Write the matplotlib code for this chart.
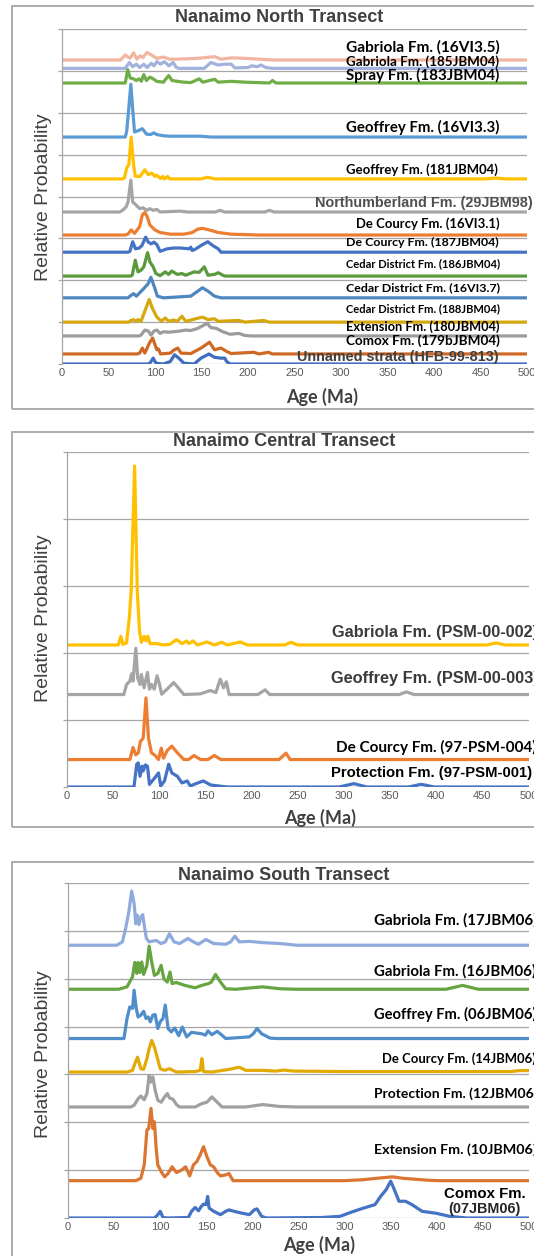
import matplotlib
matplotlib.use("Agg")
import matplotlib.pyplot as plt
from matplotlib.patches import Rectangle

# ---------------- data: (age Ma, relative height above the curve's baseline) ----------------
# Nanaimo North Transect
n_16VI35 = [(0, 0), (63, 0), (68, 0.12), (73, 0.04), (77, 0.17), (80.5, 0.02), (84, 0.10), (87, 0.06),
            (91.5, 0.18), (96, 0.12), (102, 0.04), (109, 0.07), (116, 0.02), (124, 0.02), (146, 0.04),
            (164, 0.08), (171, 0.02), (182, 0.05), (197, 0.04), (212, 0.02), (226, 0), (500, 0)]
n_185JBM04 = [(0, 0), (68, 0), (72.5, 0.14), (76, 0.04), (80, 0.10), (83.5, 0.02), (88, 0.10), (91.5, 0.02),
              (96, 0.12), (99, 0.06), (102, 0.16), (106, 0.10), (110, 0.16), (115, 0.06), (119.5, 0.14),
              (123, 0.02), (126, 0), (153, 0), (160, 0.14), (168, 0.08), (175, 0.10), (182, 0.10),
              (186, 0.01), (200, 0.02), (204, 0.06), (210, 0.04), (214, 0.08), (219, 0.02), (226, 0), (500, 0)]
n_183JBM04 = [(0, 0), (68, 0), (70.7, 0.32), (73.3, 0.12), (76.9, 0.10), (79.9, 0.06), (82.8, 0.10),
              (85.3, 0.04), (87.9, 0.20), (90.8, 0.06), (94.5, 0.14), (98.2, 0.10), (101.8, 0.04),
              (109, 0.02), (114.7, 0.18), (118.3, 0.06), (124, 0.04), (131, 0.02), (138.5, 0.01),
              (147.6, 0.10), (151.3, 0.02), (164, 0.09), (168, 0.02), (182, 0.04), (197, 0.02), (223, 0),
              (226.4, 0.06), (230, 0), (500, 0)]
n_16VI33 = [(0, 0), (68, 0), (69.6, 0.14), (71.8, 0.69), (74, 1.26), (76.2, 0.61), (78, 0.12), (81.7, 0.15),
            (86.4, 0.20), (90.8, 0.07), (95.2, 0.06), (98.9, 0.10), (101.8, 0.06), (109, 0.03), (116.5, 0.02),
            (131, 0.02), (149, 0.02), (160, 0), (500, 0)]
n_181JBM04 = [(0, 0), (65, 0), (67, 0.02), (69.6, 0.26), (71.8, 0.34), (74.4, 1.0), (76.9, 0.34), (79, 0.06),
              (84, 0.06), (89, 0.22), (92.7, 0.10), (96.3, 0.14), (100, 0.06), (101.8, 0.09), (106, 0.01),
              (108.4, 0.06), (110, 0), (113.6, 0.06), (115.8, 0), (149, 0), (156.8, 0.04), (164, 0),
              (455, 0), (466, 0.02), (477, 0), (500, 0)]
n_29JBM98 = [(0, 0), (62, 0), (65, 0.04), (69, 0.12), (71, 0.24), (74, 0.76), (76, 0.24), (80, 0.16),
             (83.5, 0.08), (87, 0.10), (91, 0.04), (94.5, 0.08), (98, 0.04), (102, 0.06), (105.5, 0),
             (127, 0.02), (135, 0), (165, 0), (170, 0.04), (175, 0), (218, 0), (223, 0.04), (228, 0), (500, 0)]
n_16VI31 = [(0, 0), (68, 0), (70.7, 0.02), (74.4, 0.12), (78, 0.04), (83.5, 0.20), (86.4, 0.48), (89, 0.54),
            (91.6, 0.44), (94.5, 0.24), (100, 0.12), (105.5, 0.06), (116.5, 0.02), (131, 0.02), (140, 0.06),
            (146, 0.14), (151, 0.16), (158.6, 0.12), (168, 0.06), (182, 0.02), (197, 0.01), (212, 0), (500, 0)]
n_187JBM04 = [(0, 0), (71, 0), (73, 0.02), (76, 0.25), (79, 0.08), (83, 0.10), (86, 0.16), (90, 0.36),
              (92.7, 0.24), (96, 0.20), (99, 0.24), (102, 0.18), (105.5, 0.02), (113, 0.08), (120, 0.10),
              (127.5, 0.10), (136.6, 0.08), (138.5, 0.12), (140, 0.04), (144, 0.08), (149.5, 0.16),
              (156.8, 0.25), (162, 0.16), (168, 0.08), (171, 0), (500, 0)]
n_186JBM04 = [(0, 0), (74, 0), (75.5, 0.02), (78.8, 0.38), (81.7, 0.10), (85, 0.14), (88, 0.22), (92, 0.56),
              (94.5, 0.34), (98, 0.22), (101, 0.06), (105.5, 0.01), (111, 0.10), (114.6, 0.04), (118, 0.12),
              (124, 0.04), (129, 0.06), (133, 0.02), (142, 0.10), (147.6, 0.09), (153, 0.22), (157, 0.02),
              (164, 0.04), (168, 0.08), (173, 0.02), (175, 0), (500, 0)]
n_16VI37 = [(0, 0), (71, 0), (73, 0.04), (77, 0.10), (80, 0.04), (87, 0.20), (92.7, 0.34), (95.6, 0.49),
            (99, 0.28), (102.6, 0.04), (109, 0), (138.5, 0.04), (146, 0.16), (151, 0.24), (157, 0.16),
            (164, 0.04), (171, 0), (500, 0)]
n_188JBM04 = [(0, 0), (72, 0), (74, 0.04), (77, 0.06), (79, 0.02), (81.7, 0.06), (85, 0.02), (90, 0.32),
              (93.8, 0.54), (97.4, 0.32), (102, 0.12), (107, 0.02), (111, 0.10), (114.7, 0.02), (120, 0.05),
              (124, 0.02), (129, 0.14), (133, 0.02), (151, 0.12), (157, 0.06), (164, 0.08), (168, 0.02),
              (190, 0.04), (197, 0), (217, 0.04), (223, 0), (500, 0)]
n_180JBM04 = [(0, 0), (83, 0), (85, 0.02), (89, 0.14), (92.7, 0.12), (95.6, 0.02), (99, 0.12), (102, 0.14),
              (105.5, 0.06), (109, 0.10), (114.6, 0.09), (120, 0.10), (127.5, 0.12), (133, 0.14),
              (138.5, 0.13), (146, 0.18), (156, 0.30), (160, 0.20), (166, 0.18), (173, 0.10), (180.6, 0.04),
              (190, 0.06), (197, 0.01), (204, 0), (500, 0)]
n_179bJBM04 = [(0, 0), (81, 0), (83.5, 0.02), (86.4, 0.14), (89, 0.02), (94, 0.26), (97.4, 0.38), (100, 0.22),
               (102, 0.10), (103.7, 0.12), (106, 0), (116.5, 0.02), (120, 0.09), (124.5, 0.14), (128, 0.02),
               (138.5, 0.01), (149.5, 0.14), (158.6, 0.28), (164, 0.10), (171, 0.14), (177, 0.06),
               (182, 0.01), (206, 0.04), (212, 0), (222, 0.04), (226, 0), (500, 0)]
n_HFB99813 = [(0, 0), (92, 0), (94.5, 0.02), (98, 0.14), (101, 0.02), (109, 0), (116.5, 0.06), (121, 0.22),
              (125.6, 0.14), (131, 0.02), (142, 0), (149.5, 0.14), (158, 0.24), (164, 0.16), (171, 0.14),
              (175, 0.14), (177, 0.06), (180.6, 0), (500, 0)]

north_labels = ["Gabriola Fm. (16VI3.5)", "Gabriola Fm. (185JBM04)", "Spray Fm. (183JBM04)",
                "Geoffrey Fm. (16VI3.3)", "Geoffrey Fm. (181JBM04)", "Northumberland Fm. (29JBM98)",
                "De Courcy Fm. (16VI3.1)", "De Courcy Fm. (187JBM04)", "Cedar District Fm. (186JBM04)",
                "Cedar District Fm. (16VI3.7)", "Cedar District Fm. (188JBM04)", "Extension Fm. (180JBM04)",
                "Comox Fm. (179bJBM04)", "Unnamed strata (HFB-99-813)"]
north_curves = [n_16VI35, n_185JBM04, n_183JBM04, n_16VI33, n_181JBM04, n_29JBM98, n_16VI31,
                n_187JBM04, n_186JBM04, n_16VI37, n_188JBM04, n_180JBM04, n_179bJBM04, n_HFB99813]
north_offsets = [7.26, 7.06, 6.71, 5.42, 4.42, 3.63, 3.08, 2.67, 2.10, 1.58, 1.00, 0.67, 0.24, 0.0]
north_colors = ["#F2B5A0", "#A2B2DD", "#70AD47", "#5B9BD5", "#FFC000", "#A5A5A5", "#ED7D31",
                "#4472C4", "#5A9A3C", "#4E86BF", "#D6A80C", "#9C9C9C", "#CF6A26", "#3F6DC0"]

# Nanaimo Central Transect
c_PSM002 = [(0, 0), (56, 0), (58.8, 0.13), (61, 0.01), (65, 0.03), (68, 0.41), (70, 0.81), (73.7, 2.67),
            (76.6, 0.81), (79, 0.21), (81, 0.04), (84, 0.13), (86, 0.06), (88, 0.13), (90.5, 0.02), (98, 0.02),
            (105, 0), (112, 0.01), (119, 0.08), (125, 0.02), (130, 0.06), (132.5, 0.02), (137, 0.06),
            (141.6, 0), (152, 0.045), (160, 0), (168, 0.04), (174, 0), (188, 0.045), (196, 0), (236, 0),
            (243, 0.04), (250, 0), (455, 0), (465, 0.03), (475, 0), (500, 0)]
c_PSM003 = [(0, 0), (62, 0), (65, 0.15), (68.6, 0.20), (70.4, 0.31), (72, 0.20), (75, 0.69), (77, 0.25),
            (79.6, 0.15), (81, 0.30), (84, 0.10), (87.6, 0.33), (89.8, 0.08), (92, 0.15), (95, 0.08), (98, 0.28),
            (100.7, 0.15), (103, 0.005), (108.8, 0.08), (116, 0.18), (121.5, 0.09), (127, 0), (145, 0.01),
            (155.5, 0.06), (161.7, 0.03), (166.4, 0.23), (170, 0.10), (173, 0.19), (176, 0), (207, 0),
            (215, 0.07), (220, 0), (360, 0), (368, 0.04), (376, 0), (500, 0)]
c_PSM004 = [(0, 0), (68.6, 0), (72, 0.18), (75, 0.07), (77.7, 0.10), (80, 0.27), (83, 0.32), (86, 0.92),
            (88.7, 0.32), (92, 0.10), (96, 0.06), (99.6, 0), (102.5, 0.17), (105, 0.02), (108.8, 0.13),
            (114, 0.20), (120, 0.10), (127, 0), (132, 0), (138, 0.06), (145, 0), (153, 0), (160, 0.06),
            (167, 0), (230, 0), (237.6, 0.095), (242, 0), (500, 0)]
c_PSM001 = [(0, 0), (73, 0), (76, 0.34), (77.7, 0.36), (79.6, 0.16), (81.8, 0.31), (83, 0.24), (85.4, 0.33),
            (87.6, 0.31), (89.8, 0.04), (94, 0.11), (99.6, 0.21), (102, 0.015), (106, 0.09), (110.6, 0.34),
            (114, 0.21), (120, 0.16), (125, 0.06), (130.7, 0.09), (134, 0.015), (140, 0.05), (148, 0.09),
            (156, 0.03), (174, 0), (295, 0), (311, 0.05), (325, 0), (370, 0), (384, 0.04), (398, 0), (500, 0)]

central_labels = ["Gabriola Fm. (PSM-00-002)", "Geoffrey Fm. (PSM-00-003)",
                  "De Courcy Fm. (97-PSM-004)", "Protection Fm. (97-PSM-001)"]
central_curves = [c_PSM002, c_PSM003, c_PSM004, c_PSM001]
central_offsets = [2.12, 1.38, 0.41, 0.0]
central_colors = ["#FFC000", "#A5A5A5", "#ED7D31", "#4472C4"]

# Nanaimo South Transect
s_17JBM06 = [(0, 0), (53, 0), (59, 0.07), (62.5, 0.35), (66, 0.70), (69, 1.13), (71.7, 0.87), (73.5, 0.45),
             (75, 0.63), (77, 0.43), (79, 0.59), (81, 0.64), (82.7, 0.42), (85, 0.14), (88, 0.07), (95.6, 0.10),
             (101, 0.035), (105.5, 0.07), (110, 0.24), (115, 0.07), (121, 0.035), (130, 0.14), (136, 0.07),
             (141.5, 0.02), (149.6, 0.12), (158, 0.035), (171, 0.02), (176.5, 0.07), (181, 0.19),
             (185.7, 0.07), (197, 0.08), (211, 0.055), (230, 0.035), (248, 0), (500, 0)]
s_16JBM06 = [(0, 0), (55, 0), (64, 0.05), (70, 0.26), (72.4, 0.56), (74.6, 0.33), (76, 0.56), (78, 0.35),
             (80, 0.57), (82, 0.31), (85.6, 0.50), (88, 0.90), (90.8, 0.57), (93.7, 0.29), (97.4, 0.33),
             (101, 0.50), (104, 0.22), (107.7, 0.15), (110.6, 0.36), (112.9, 0.12), (117.6, 0.14),
             (126.8, 0.08), (137.9, 0.03), (145, 0.08), (152.6, 0.12), (155.5, 0.15), (160, 0.31),
             (165.4, 0.15), (171, 0.01), (182, 0), (211, 0.05), (230, 0.01), (248, 0), (410, 0),
             (428, 0.08), (445, 0), (500, 0)]
s_06JBM06 = [(0, 0), (60.7, 0), (64, 0.42), (67, 0.66), (70, 0.63), (71.7, 1.01), (74, 0.63), (76, 0.45),
             (79, 0.49), (82, 0.57), (84.6, 0.42), (87, 0.45), (89.3, 0.35), (92, 0.49), (94.5, 0.50),
             (97.4, 0.21), (100, 0.35), (103, 0.42), (105.5, 0.70), (108.5, 0.21), (112, 0.14), (115.8, 0.22),
             (120, 0.06), (124, 0.24), (128.7, 0.035), (134, 0.13), (145, 0.10), (149, 0.07), (151.8, 0.16),
             (156, 0.08), (161.8, 0.15), (167, 0.07), (171, 0), (196.7, 0.035), (201, 0.10), (205, 0.21),
             (210, 0.10), (219, 0.01), (226, 0), (500, 0)]
s_14JBM06 = [(0, 0), (64, 0), (70, 0.035), (72.4, 0.17), (75.4, 0.31), (79, 0.07), (82, 0.055), (85.6, 0.28),
             (88, 0.49), (90.8, 0.66), (93.7, 0.52), (96.7, 0.31), (100, 0.07), (104.8, 0.035), (110, 0.07),
             (117.6, 0), (137.9, 0.01), (143.4, 0.035), (145.2, 0.28), (147, 0.01), (156, 0), (174.6, 0.055),
             (185.7, 0.10), (193, 0.035), (211, 0.035), (225, 0.02), (234, 0.04), (245, 0.02), (300, 0.01),
             (480, 0.01), (490, 0.03), (500, 0.03)]
s_12JBM06 = [(0, 0), (68, 0), (71.7, 0.035), (76, 0.17), (79, 0.23), (82.7, 0.15), (85.6, 0.28), (88, 0.66),
             (90, 0.52), (92, 0.63), (94.5, 0.35), (97.4, 0.14), (101, 0.10), (104.8, 0.21), (107.7, 0.28),
             (110, 0.19), (114, 0.16), (117.6, 0.05), (121, 0), (138, 0), (145, 0.07), (150.7, 0.10),
             (156, 0.21), (161.8, 0.10), (167, 0), (193, 0), (211, 0.05), (230, 0.01), (248, 0), (500, 0)]
s_10JBM06 = [(0, 0), (73.5, 0), (79, 0.05), (82.7, 0.33), (85.6, 1.06), (87.5, 1.09), (90, 1.51), (92, 1.09),
             (93.7, 1.23), (95.6, 0.68), (97.4, 0.33), (101, 0.19), (104.8, 0.08), (108.5, 0.15),
             (112.9, 0.29), (117.6, 0.17), (123, 0.22), (127.6, 0.29), (132, 0.10), (136, 0.33),
             (139.7, 0.40), (143.4, 0.54), (147, 0.71), (150.7, 0.50), (154.4, 0.33), (158, 0.29),
             (161.8, 0.17), (165.4, 0.10), (171, 0.12), (174.6, 0.15), (179, 0), (300, 0), (320, 0.02),
             (335, 0.05), (352, 0.08), (363, 0.05), (390, 0.01), (403, 0), (500, 0)]
s_07JBM06 = [(0, 0), (94, 0), (97.4, 0.07), (100, 0.14), (103, 0.01), (108.5, 0), (130.5, 0.01), (134, 0.14),
             (138, 0.22), (141.5, 0.15), (144.5, 0.24), (147, 0.29), (149.6, 0.28), (151.5, 0.45), (153, 0.21),
             (158, 0.14), (165.4, 0.07), (171, 0.14), (174.6, 0.17), (180, 0.14), (189, 0.10), (196.7, 0.07),
             (202, 0.17), (205, 0.19), (210, 0.035), (215, 0), (275, 0.01), (295, 0.035), (310, 0.14),
             (321, 0.21), (333, 0.28), (339, 0.45), (345, 0.59), (350, 0.77), (354, 0.59), (359, 0.35),
             (366, 0.35), (373, 0.28), (384, 0.14), (399, 0.10), (414, 0.035), (432, 0), (500, 0)]

south_labels = ["Gabriola Fm. (17JBM06)", "Gabriola Fm. (16JBM06)", "Geoffrey Fm. (06JBM06)",
                "De Courcy Fm. (14JBM06)", "Protection Fm. (12JBM06)", "Extension Fm. (10JBM06)",
                "Comox Fm.\n(07JBM06)"]
south_curves = [s_17JBM06, s_16JBM06, s_06JBM06, s_14JBM06, s_12JBM06, s_10JBM06, s_07JBM06]
south_offsets = [5.70, 4.78, 3.75, 3.05, 2.32, 0.78, 0.0]
south_colors = ["#8FAADC", "#66A541", "#4F8DCB", "#E3AA06", "#A0A0A0", "#DB7532", "#4472C4"]

# ---------------- figure ----------------
W, H = 534, 1256
fig = plt.figure(figsize=(W / 100, H / 100), dpi=100)
renderer = fig.canvas.get_renderer()

GRID = "#A6A6A6"
TXT = "#404040"


def fx(x):
    return x / W


def fy(y):
    return 1 - y / H


def panel(left, width, top, bottom, nrows, curves, offsets, colors):
    ax = fig.add_axes([fx(left), fy(bottom), width / W, (bottom - top) / H])
    for curve, off, col in zip(curves, offsets, colors):
        ages = [p[0] for p in curve]
        vals = [off + p[1] for p in curve]
        ax.plot(ages, vals, color=col, lw=2.3, solid_joinstyle="round")
    ax.set_xlim(0, 500)
    ax.set_ylim(0, nrows)
    ax.set_xticks(range(0, 501, 50))
    ax.set_yticks(range(nrows + 1))
    ax.set_yticklabels([])
    ax.yaxis.grid(True, color=GRID, lw=0.9)
    ax.set_axisbelow(True)
    for s in ["top", "right", "bottom"]:
        ax.spines[s].set_visible(False)
    ax.spines["left"].set_color(GRID)
    ax.spines["left"].set_linewidth(0.9)
    ax.tick_params(axis="y", length=3, color=GRID, width=0.9)
    ax.tick_params(axis="x", length=0, pad=3, labelsize=8, labelcolor="#595959")
    for t in ax.get_xticklabels():
        t.set_fontfamily("Liberation Sans")
    return ax


def fit(x0, x1, y, s, family="Lato", color="black", cut=False):
    # size the label so that it spans x0..x1 (the closing bracket may run off the edge)
    t = fig.text(fx(x0), fy(y), s[:-1] if cut else s, fontsize=10, fontweight="bold",
                 family=family, color=color, va="center", ha="left")
    w = t.get_window_extent(renderer).width
    t.set_fontsize(10 * (x1 - x0) / w)
    t.set_text(s)
    return t


def frame(top, bottom):
    fig.add_artist(Rectangle((fx(12), fy(bottom)), 1.0, (bottom - top) / H, transform=fig.transFigure,
                             fill=False, ec=GRID, lw=1.3))


def titles(title, tx, ty, xlx, xly, yly):
    fig.text(fx(tx), fy(ty), title, fontsize=13, fontweight="bold", family="Liberation Sans",
             color=TXT, ha="center", va="center")
    fig.text(fx(xlx), fy(xly), "Age (Ma)", fontsize=13, fontweight="bold", family="Lato",
             color=TXT, ha="center", va="center")
    fig.text(fx(43.5), fy(yly), "Relative Probability", fontsize=14, family="Liberation Sans",
             color=TXT, ha="center", va="center", rotation=90)


# --- North
frame(6, 409)
panel(62, 465, 29, 364, 8, north_curves, north_offsets, north_colors)
titles("Nanaimo North Transect", 279, 18, 322, 397, 197)
north_pos = [(346, 499, 47.5), (346, 499, 62), (346, 499, 75), (346, 499, 127), (346, 499, 170),
             (315, 532, 203), (356, 499, 224), (346, 499, 242), (346, 499, 264), (346, 499, 288),
             (346, 499, 309), (346, 499, 327), (346, 499, 341), (297, 499, 357)]
north_fonts = ["Lato"] * 5 + ["Liberation Sans"] + ["Lato"] * 7 + ["Liberation Sans"]
north_txt = ["black"] * 5 + ["#505050"] + ["black"] * 7 + ["#404040"]
for lab, (x0, x1, y), fam, col in zip(north_labels, north_pos, north_fonts, north_txt):
    fit(x0, x1, y, lab, family=fam, color=col)

# --- Central
frame(432, 827)
panel(66.5, 462, 452, 787, 5, central_curves, central_offsets, central_colors)
titles("Nanaimo Central Transect", 284, 442, 320, 818, 618)
fit(332, 533, 632.5, central_labels[0], family="Liberation Sans", color="#3A3A3A", cut=True)
fit(331, 534, 678, central_labels[1], family="Liberation Sans", color="#3A3A3A", cut=True)
fit(336, 533, 747, central_labels[2], family="Lato", cut=True)
fit(331, 533, 773.5, central_labels[3], family="Liberation Sans")

# --- South
frame(862, 1300)
panel(68, 461, 883, 1218, 7, south_curves, south_offsets, south_colors)
titles("Nanaimo South Transect", 284, 876, 319, 1245, 1054)
south_pos = [(374, 537, 920), (374, 537, 971), (374, 537, 1014), (382, 537, 1059), (374, 537, 1094),
             (374, 537, 1150)]
for lab, (x0, x1, y) in zip(south_labels[:-1], south_pos):
    fit(x0, x1, y, lab)
comox, comox_id = south_labels[-1].split("\n")
fit(444, 526, 1194, comox, family="Liberation Sans")
fit(448, 520, 1208.5, comox_id, family="Liberation Sans", color="#262626")

fig.savefig("out.png", dpi=100)
